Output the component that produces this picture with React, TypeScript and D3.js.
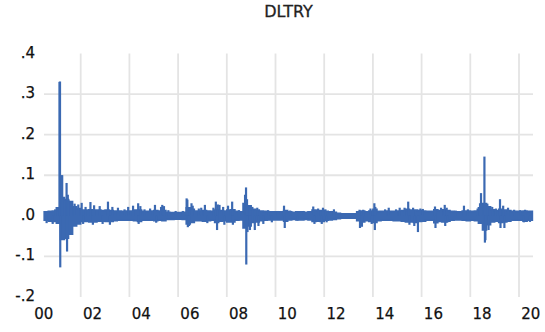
import React from "react";
import * as d3 from "d3";

// ---- Data ----
const title = "DLTRY";
const yTicks = [0.4, 0.3, 0.2, 0.1, 0.0, -0.1, -0.2];
const yTickLabels = [".4", ".3", ".2", ".1", ".0", "-.1", "-.2"];
const xYears = [2000, 2002, 2004, 2006, 2008, 2010, 2012, 2014, 2016, 2018, 2020];
const xTickLabels = ["00", "02", "04", "06", "08", "10", "12", "14", "16", "18", "20"];

// Two-month bins starting mid-2000: typical upper / lower edge of the dense band
const binStart = 2000.5;
const binWidth = 1 / 6;
const dataEnd = 2020.55;
const bandHigh = [
  0.01, 0.011, 0.012,
  0.02, 0.045, 0.04, 0.035, 0.022, 0.018,
  0.014, 0.014, 0.015, 0.014, 0.014, 0.013,
  0.014, 0.013, 0.012, 0.012, 0.011, 0.012,
  0.012, 0.014, 0.014, 0.011, 0.011, 0.012,
  0.013, 0.012, 0.013, 0.009, 0.008, 0.008,
  0.008, 0.009, 0.02, 0.016, 0.012, 0.012,
  0.013, 0.012, 0.011, 0.014, 0.013, 0.012,
  0.014, 0.015, 0.011, 0.01, 0.03, 0.025,
  0.016, 0.014, 0.012, 0.011, 0.01, 0.01,
  0.01, 0.01, 0.013, 0.01, 0.009, 0.01,
  0.01, 0.009, 0.01, 0.014, 0.013, 0.013,
  0.011, 0.01, 0.009, 0.006, 0.005, 0.005,
  0.005, 0.005, 0.01, 0.012, 0.01, 0.012,
  0.016, 0.011, 0.011, 0.012, 0.011, 0.011,
  0.012, 0.013, 0.016, 0.014, 0.014, 0.013,
  0.012, 0.011, 0.011, 0.015, 0.013, 0.015,
  0.013, 0.011, 0.01, 0.01, 0.012, 0.012,
  0.011, 0.012, 0.02, 0.03, 0.022, 0.015,
  0.013, 0.016, 0.014, 0.013, 0.011, 0.011,
  0.011, 0.012, 0.011,
];
const bandLow = [
  -0.011, -0.013, -0.014,
  -0.018, -0.058, -0.055, -0.045, -0.025, -0.02,
  -0.014, -0.014, -0.015, -0.015, -0.013, -0.013,
  -0.014, -0.014, -0.012, -0.011, -0.011, -0.011,
  -0.011, -0.012, -0.014, -0.011, -0.011, -0.011,
  -0.012, -0.011, -0.012, -0.009, -0.009, -0.008,
  -0.008, -0.009, -0.02, -0.016, -0.012, -0.012,
  -0.013, -0.012, -0.011, -0.016, -0.013, -0.012,
  -0.015, -0.015, -0.011, -0.01, -0.03, -0.025,
  -0.016, -0.015, -0.012, -0.011, -0.01, -0.01,
  -0.01, -0.01, -0.013, -0.01, -0.009, -0.01,
  -0.01, -0.009, -0.01, -0.014, -0.013, -0.014,
  -0.011, -0.01, -0.009, -0.007, -0.006, -0.006,
  -0.006, -0.006, -0.012, -0.015, -0.012, -0.014,
  -0.016, -0.012, -0.011, -0.011, -0.011, -0.012,
  -0.012, -0.013, -0.015, -0.015, -0.016, -0.014,
  -0.013, -0.011, -0.011, -0.017, -0.014, -0.015,
  -0.013, -0.011, -0.01, -0.01, -0.011, -0.012,
  -0.011, -0.012, -0.018, -0.035, -0.022, -0.015,
  -0.013, -0.016, -0.015, -0.013, -0.011, -0.011,
  -0.011, -0.013, -0.011,
];

// Individual extreme daily moves that stick out of the band
const spikeDates = [
  2000.6, 2000.85, 2000.95,
  2001.13, 2001.15, 2001.16, 2001.22, 2001.24, 2001.42, 2001.44, 2001.47, 2001.5, 2001.6, 2001.75, 2001.9,
  2002.04, 2002.1, 2002.2, 2002.4, 2002.5, 2002.55, 2002.78, 2002.9,
  2003.12, 2003.2, 2003.3, 2003.53, 2003.8, 2003.95,
  2004.15, 2004.36, 2004.38, 2004.45, 2004.62, 2004.85,
  2005.05, 2005.1, 2005.3, 2005.35, 2005.42, 2005.6, 2005.9,
  2006.2, 2006.35, 2006.38, 2006.4, 2006.45, 2006.55, 2006.6, 2006.85, 2006.95,
  2007.1, 2007.2, 2007.45, 2007.55, 2007.6, 2007.63, 2007.7, 2007.85, 2007.9,
  2008.05, 2008.22, 2008.25, 2008.5, 2008.75, 2008.79, 2008.8, 2008.83, 2008.85, 2008.95,
  2009.05, 2009.15, 2009.25, 2009.3, 2009.5, 2009.7, 2009.85,
  2010.1, 2010.35, 2010.38, 2010.6, 2010.9,
  2011.15, 2011.55, 2011.6, 2011.75, 2011.9, 2011.95,
  2012.05, 2012.1, 2012.3, 2012.4,
  2013.45, 2013.47, 2013.55, 2013.6, 2013.9, 2013.95,
  2014.06, 2014.08, 2014.1, 2014.5, 2014.65, 2014.95,
  2015.1, 2015.3, 2015.45, 2015.5, 2015.65, 2015.7, 2015.85, 2015.95,
  2016.05, 2016.55, 2016.57, 2016.8, 2016.95, 2016.97,
  2017.03, 2017.05, 2017.4, 2017.74, 2017.9,
  2018.3, 2018.4, 2018.44, 2018.58, 2018.6, 2018.62, 2018.63, 2018.7, 2018.75, 2018.9,
  2019.05, 2019.22, 2019.24, 2019.35, 2019.4, 2019.55, 2019.8,
  2020.05, 2020.2, 2020.25, 2020.45,
];
const spikeValues = [
  -0.018, -0.02, 0.016,
  0.33, 0.331, -0.127, 0.1, 0.1, 0.081, -0.088, 0.052, 0.04, 0.035, 0.03, 0.028,
  0.032, -0.02, 0.022, 0.034, -0.022, 0.026, 0.024, -0.02,
  0.035, -0.022, 0.022, 0.02, 0.016, 0.022,
  0.025, 0.031, -0.02, 0.024, 0.016, 0.018,
  0.027, -0.017, 0.022, 0.027, 0.024, 0.014, 0.012,
  0.012, 0.043, 0.04, -0.028, -0.025, 0.031, 0.025, 0.018, 0.02,
  0.027, -0.018, 0.02, 0.035, -0.035, 0.028, 0.027, 0.022, -0.022,
  0.025, 0.035, -0.022, 0.014, 0.052, 0.07, -0.12, 0.041, -0.04, -0.035,
  0.022, -0.035, 0.02, -0.025, -0.02, 0.014, -0.016,
  0.012, 0.025, -0.03, 0.013, -0.012,
  0.012, 0.023, -0.02, 0.018, -0.02, 0.02,
  0.016, -0.016, 0.012, 0.016,
  0.015, -0.03, -0.027, 0.015, 0.018, -0.02,
  0.031, -0.035, 0.022, 0.016, 0.02, 0.016,
  0.02, 0.02, 0.035, -0.022, 0.02, -0.025, -0.04, 0.018,
  0.017, 0.023, -0.03, 0.02, 0.027, -0.025,
  0.02, -0.017, 0.013, 0.025, 0.016,
  0.018, 0.031, 0.056, 0.146, -0.066, -0.06, 0.031, 0.03, -0.035, 0.022,
  0.018, 0.041, -0.03, 0.025, -0.03, 0.02, 0.015,
  0.014, -0.016, 0.015, -0.015,
];

// ---- Layout ----
const W = 545;
const H = 332;
const plotLeft = 44;
const plotRight = 533;
const plotTop = 53.5;
const plotBottom = 297;
const BLUE = "#3b69b2";
const GRID = "#e4e4e4";
const FONT = "'DejaVu Sans', Verdana, sans-serif";

export default function App() {
  const x = d3.scaleLinear().domain([2000, 2020]).range([32, 519]);
  const y = d3.scaleLinear().domain([-0.2, 0.4]).range([plotBottom, plotTop]);

  const bins = bandHigh.map((hi, i) => ({ t: binStart + i * binWidth, hi, lo: bandLow[i] }));
  const last = bins[bins.length - 1];
  bins.push({ t: dataEnd, hi: last.hi, lo: last.lo });

  const area = d3
    .area<{ t: number; hi: number; lo: number }>()
    .x((d) => x(d.t))
    .y0((d) => y(d.lo))
    .y1((d) => y(d.hi))
    .curve(d3.curveStepAfter);

  const spikes = spikeDates.map((t, i) => ({ t, v: spikeValues[i] }));

  return (
    <svg
      width={W}
      height={H}
      style={{ position: "absolute", left: 0, top: 0, background: "#fff" }}
      fontFamily={FONT}
    >
      <rect x={0} y={0} width={W} height={H} fill="#fff" />
      {/* horizontal grid */}
      {yTicks
        .filter((v) => v < 0.35 && v > -0.15)
        .map((v) => (
          <line key={"h" + v} x1={plotLeft} x2={plotRight} y1={y(v)} y2={y(v)} stroke={GRID} strokeWidth={1.8} />
        ))}
      {/* vertical grid */}
      {xYears
        .filter((yr) => x(yr) > plotLeft)
        .map((yr) => (
          <line key={"v" + yr} x1={x(yr)} x2={x(yr)} y1={plotTop} y2={plotBottom} stroke={GRID} strokeWidth={1.8} />
        ))}
      {/* series band */}
      <path d={area(bins) || ""} fill={BLUE} stroke={BLUE} strokeWidth={1.6} strokeLinejoin="miter" />
      {spikes.map((s, i) => (
        <line key={"s" + i} x1={x(s.t)} x2={x(s.t)} y1={y(0)} y2={y(s.v)} stroke={BLUE} strokeWidth={2.2} />
      ))}
      {/* y labels */}
      {yTicks.map((v, i) => (
        <text key={"yl" + i} x={35} y={y(v) - 1} textAnchor="end" dominantBaseline="central" fontSize={15} fill="#111" stroke="#111" strokeWidth={0.25}>
          {yTickLabels[i]}
        </text>
      ))}
      {/* x labels */}
      {xYears.map((yr, i) => (
        <text key={"xl" + i} x={x(yr) + 11.8} y={319} textAnchor="middle" fontSize={15} fill="#111" stroke="#111" strokeWidth={0.25}>
          {xTickLabels[i]}
        </text>
      ))}
      {/* title */}
      <text x={(plotLeft + plotRight) / 2} y={17} textAnchor="middle" fontSize={16} fill="#222" stroke="#222" strokeWidth={0.3}>
        {title}
      </text>
    </svg>
  );
}
